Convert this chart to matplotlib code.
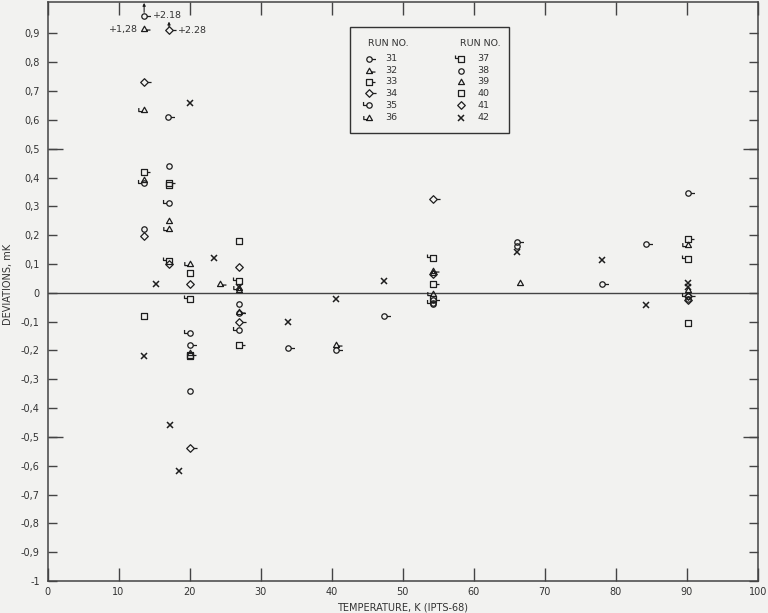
import numpy as np
import matplotlib
matplotlib.use("Agg")
import matplotlib.pyplot as plt
from matplotlib.path import Path
from matplotlib.lines import Line2D
from matplotlib.patches import Rectangle

# ---------------- data (temperature K, deviation mK) ----------------
r31_T = [17.0, 20.0, 27.0, 33.8, 40.6, 47.3, 54.3, 66.1, 78.1, 84.2, 90.1]
r31_D = [0.61, -0.18, -0.07, -0.19, -0.20, -0.08, -0.025, 0.175, 0.03, 0.17, 0.345]
r32_T = [24.3, 27.0, 40.6, 54.3]
r32_D = [0.03, -0.065, -0.18, 0.075]
r33_T = [13.6, 17.1, 20.0, 27.0, 54.3, 90.1]
r33_D = [0.42, 0.38, -0.215, -0.18, 0.03, 0.185]
r34_T = [13.6, 20.0, 27.0, 54.3, 90.1]
r34_D = [0.73, -0.54, -0.10, 0.325, -0.01]
r35_T = [13.6, 17.1, 20.0, 27.0, 54.3, 90.1]
r35_D = [0.38, 0.31, -0.14, -0.13, -0.035, -0.01]
r36_T = [13.6, 17.1, 20.0, 27.0, 54.3, 90.1]
r36_D = [0.635, 0.22, 0.10, 0.015, -0.005, 0.165]
r37_T = [17.1, 20.0, 27.0, 54.3, 90.1]
r37_D = [0.11, -0.02, 0.042, 0.122, 0.118]
r38_T = [13.6, 17.1, 20.0, 27.0, 54.3, 66.1, 90.1]
r38_D = [0.22, 0.44, -0.34, -0.04, -0.04, 0.162, -0.02]
r39_T = [13.6, 17.1, 20.0, 27.0, 54.3, 66.5, 90.1]
r39_D = [0.39, 0.25, -0.21, 0.008, 0.07, 0.035, 0.01]
r40_T = [13.6, 17.1, 20.0, 20.0, 27.0, 54.3, 90.1]
r40_D = [-0.08, 0.375, 0.07, -0.22, 0.18, -0.02, -0.104]
r41_T = [13.6, 17.1, 20.0, 27.0, 54.3, 90.1]
r41_D = [0.197, 0.10, 0.03, 0.09, 0.065, -0.025]
r42_T = [13.6, 15.3, 17.2, 18.5, 20.0, 23.5, 27.0, 33.8, 40.6, 47.3, 66.1, 78.1, 84.2, 90.1, 90.1]
r42_D = [-0.22, 0.03, -0.46, -0.62, 0.66, 0.12, 0.02, -0.10, -0.02, 0.04, 0.141, 0.115, -0.044, 0.033, 0.02]

# off-scale points (run, T, true deviation, label)
off_runs = ["31", "32", "34"]
off_T = [13.6, 13.6, 17.1]
off_D = [2.18, 1.28, 2.28]
off_labels = ["+2.18", "+1,28", "+2.28"]

run_ids = ["31", "32", "33", "34", "35", "36", "37", "38", "39", "40", "41", "42"]
run_T = [r31_T, r32_T, r33_T, r34_T, r35_T, r36_T, r37_T, r38_T, r39_T, r40_T, r41_T, r42_T]
run_D = [r31_D, r32_D, r33_D, r34_D, r35_D, r36_D, r37_D, r38_D, r39_D, r40_D, r41_D, r42_D]

xticks = list(range(0, 101, 10))
yticks = [round(v, 1) for v in np.arange(-1.0, 0.95, 0.1)]

# ---------------- marker shapes ----------------
M, L = Path.MOVETO, Path.LINETO

def poly(pts):
    pts = list(pts) + [pts[0]]
    return Path(pts, [M] + [L] * (len(pts) - 2) + [Path.CLOSEPOLY])

CIRC = Path.unit_circle()
TRI = poly([(0, 1.2), (-1.1, -0.75), (1.1, -0.75)])
SQ = poly([(-1, -1), (1, -1), (1, 1), (-1, 1)])
DIA = poly([(0, 1.4), (1.4, 0), (0, -1.4), (-1.4, 0)])

def seg(pts):
    return Path(pts, [M] + [L] * (len(pts) - 1))

tail = {"o": seg([(1, 0), (2.4, 0)]), "^": seg([(0.8, -0.2), (2.2, -0.2)]),
        "s": seg([(1, 0), (2.3, 0)]), "D": seg([(1.4, 0), (2.6, 0)])}
hook = {"o": seg([(-1, 0), (-2.2, 0), (-2.2, 1.3)]),
        "^": seg([(-0.75, -0.4), (-2.1, -0.4), (-2.1, 0.9)]),
        "s": seg([(-1, 0.3), (-2.2, 0.3), (-2.2, 1.3)])}
base = {"o": CIRC, "^": TRI, "s": SQ, "D": DIA}

def make(shape, kind):
    p = base[shape]
    if kind == "tail":
        p = Path.make_compound_path(p, tail[shape])
    elif kind == "hook":
        p = Path.make_compound_path(p, hook[shape])
    ext = np.max(np.abs(p.vertices))
    return p, ext

spec = {"31": ("o", "tail"), "32": ("^", "tail"), "33": ("s", "tail"), "34": ("D", "tail"),
        "35": ("o", "hook"), "36": ("^", "hook"), "37": ("s", "hook"),
        "38": ("o", None), "39": ("^", None), "40": ("s", None), "41": ("D", None),
        "42": ("x", None)}
BASE_MS = 3.9
INK = "#1e1e1e"

def style(run):
    shape, kind = spec[run]
    if shape == "x":
        return dict(marker="x", markersize=4.2, markeredgewidth=1.1, color=INK)
    p, ext = make(shape, kind)
    return dict(marker=p, markersize=BASE_MS * ext, markeredgewidth=0.9,
                markerfacecolor="none", markeredgecolor=INK)

# ---------------- figure ----------------
BG = "#f2f2f0"
W, H = 768, 613
fig = plt.figure(figsize=(W / 100, H / 100), dpi=100, facecolor=BG)
ax = fig.add_axes([47.5 / W, 32 / H, 710.5 / W, 579.3 / H], facecolor=BG)
ax.set_xlim(0, 100)
ax.set_ylim(-1.0, 1.01)

for run, T, D in zip(run_ids, run_T, run_D):
    ax.plot(T, D, linestyle="none", **style(run))

# off-scale points drawn at the top edge with arrows
off_pos = [0.961, 0.914, 0.911]
for run, T, ypos, lab in zip(off_runs, off_T, off_pos, off_labels):
    ax.plot([T], [ypos], linestyle="none", **style(run))
    if run == "32":
        ax.text(T - 0.8, ypos, lab, ha="right", va="center", fontsize=6.8, color="#333")
    else:
        ax.annotate("", xy=(T, ypos + 0.045 if run == "31" else ypos + 0.03),
                    xytext=(T, ypos + 0.012),
                    arrowprops=dict(arrowstyle="-|>", color=INK, lw=0.8,
                                    mutation_scale=4, shrinkA=0, shrinkB=0))
        ax.text(T + 1.2, ypos, lab, ha="left", va="center", fontsize=6.8, color="#333")

ax.axhline(0, color="#444", lw=1.0, zorder=0)

# ticks
ax.set_xticks(xticks)
ax.set_xticklabels([str(v) for v in xticks])
def ylab(v):
    if abs(v) < 1e-9:
        return "0"
    if abs(abs(v) - 1) < 1e-9:
        return "-1" if v < 0 else "1"
    return ("%.1f" % v).replace(".", ",")
ax.set_yticks(yticks)
ax.set_yticklabels([ylab(v) for v in yticks])
for t, v in zip(ax.get_yticklabels(), yticks):
    if abs(v - 0.9) < 1e-9:
        t.set_color("#b0b0b0")
ax.yaxis.remove_overlapping_locs = False
ax.set_yticks([-0.5, 0.5], minor=True)
ax.tick_params(axis="y", which="major", direction="in", length=6.5, width=1.0,
               left=True, right=True, labelsize=7, labelcolor="#333", pad=5.5, color="#444")
ax.tick_params(axis="y", which="minor", direction="in", length=11, width=1.0,
               left=True, right=True, color="#444")
ax.tick_params(axis="x", direction="in", length=9.5, width=1.0, top=True, bottom=True,
               labelsize=7, labelcolor="#333", pad=4, color="#444")
for s in ax.spines.values():
    s.set_color("#444")
    s.set_linewidth(1.1)

fig.text(403 / W, 1 - 607 / H, "TEMPERATURE, K (IPTS-68)", ha="center", va="center",
         fontsize=7, color="#333")
fig.text(8 / W, 1 - 284 / H, "DEVIATIONS, mK", ha="center", va="center",
         rotation=90, fontsize=7, color="#333")

# ---------------- legend (manual box) ----------------
def fx(x):
    return x / W
def fy(y):
    return 1 - y / H

fig.add_artist(Rectangle((fx(350), fy(133)), (509 - 350) / W, (133 - 27) / H,
                         transform=fig.transFigure, fill=False, edgecolor="#333", lw=1.0))
fig.text(fx(388.5), fy(43), "RUN NO.", ha="center", va="center", fontsize=6.8, color="#333")
fig.text(fx(480), fy(43), "RUN NO.", ha="center", va="center", fontsize=6.8, color="#333")
row_y = [58.5, 70.5, 81.5, 93, 105, 117.5]
for i, run in enumerate(run_ids):
    col = i // 6
    yy = row_y[i % 6]
    mx = 369 if col == 0 else 461
    tx = 385 if col == 0 else 477
    fig.add_artist(Line2D([fx(mx)], [fy(yy)], transform=fig.transFigure,
                          linestyle="none", **style(run)))
    fig.text(fx(tx), fy(yy), run, ha="left", va="center", fontsize=6.8, color="#333")

fig.savefig("out.png", dpi=100, facecolor=BG)
